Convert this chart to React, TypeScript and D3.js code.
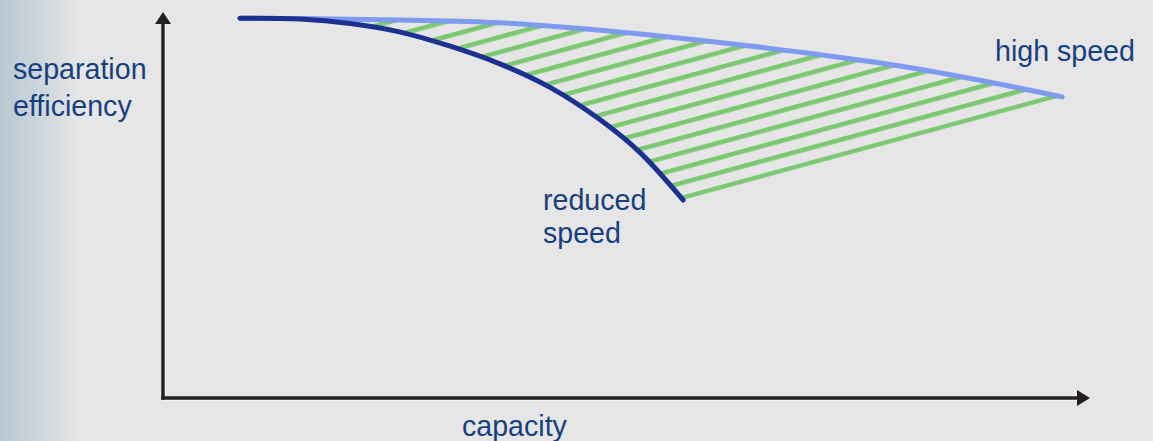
import * as d3 from "d3";

// capacity / separation-efficiency curves (axis units 0..100)
const highSpeedX = [8.3, 14.8, 25.6, 36.4, 47.2, 57.9, 68.7, 79.5, 90.3, 97.0];
const highSpeedY = [98.4, 98.3, 97.9, 97.2, 95.3, 92.7, 89.6, 86.0, 81.3, 78.0];
const reducedX = [8.3, 14.8, 20.2, 25.6, 30.9, 36.4, 41.8, 47.2, 51.5, 56.1];
const reducedY = [98.4, 98.2, 97.0, 94.8, 91.2, 86.5, 80.4, 72.0, 63.5, 51.3];

const axisLabels = { x: "capacity", y: ["separation", "efficiency"] };
const seriesLabels = { high: ["high speed"], reduced: ["reduced", "speed"] };

const W = 1153;
const H = 441;
const FONT = "'Liberation Sans', Arial, sans-serif";
const TEXT = "#17407e";

const x = d3.scaleLinear().domain([0, 100]).range([163, 1090]);
const y = d3.scaleLinear().domain([0, 100]).range([398, 12]);

type Pt = [number, number];
const high: Pt[] = highSpeedX.map((v, i) => [v, highSpeedY[i]]);
const reduced: Pt[] = reducedX.map((v, i) => [v, reducedY[i]]);

const line = d3
  .line<Pt>()
  .x((d) => x(d[0]))
  .y((d) => y(d[1]))
  .curve(d3.curveCatmullRom.alpha(0.5));

export default function App() {
  // hatched gap between the two curves, closed by a straight edge
  const hatchPath =
    line(high)! + "L" + line([...reduced].reverse())!.slice(1) + "Z";

  const endR = reduced[reduced.length - 1];
  const endH = high[high.length - 1];
  const ex = x(endR[0]);
  const ey = y(endR[1]);
  const angle =
    (Math.atan2(y(endH[1]) - ey, x(endH[0]) - ex) * 180) / Math.PI;
  const gap = 14.5;
  const lw = 4.6;

  const x0 = x(0);
  const y0 = y(0);
  const xEnd = x(100);
  const yEnd = y(100);

  return (
    <svg
      width={W}
      height={H}
      style={{ position: "absolute", left: 0, top: 0, fontFamily: FONT }}
    >
      <defs>
        <linearGradient id="edge" x1="0" x2="1" y1="0" y2="0">
          <stop offset="0" stopColor="#b8c7d2" />
          <stop offset="1" stopColor="#e6e6e6" />
        </linearGradient>
        <pattern
          id="hatch"
          patternUnits="userSpaceOnUse"
          width={60}
          height={gap}
          patternTransform={`translate(${ex},${ey}) rotate(${angle}) translate(0,${-lw})`}
        >
          <rect x={0} y={0} width={60} height={lw} fill="#7dc872" />
        </pattern>
      </defs>

      <rect width={W} height={H} fill="#e6e6e6" />
      <rect width={80} height={H} fill="url(#edge)" />

      <path d={hatchPath} fill="url(#hatch)" />

      <path
        d={line(high)!}
        fill="none"
        stroke="#7f9bf0"
        strokeWidth={5}
        strokeLinecap="round"
      />
      <path
        d={line(reduced)!}
        fill="none"
        stroke="#1c3190"
        strokeWidth={5}
        strokeLinecap="round"
      />

      {/* axes */}
      <g>
        <line x1={x0 + 2.2} x2={x0 + 2.2} y1={yEnd + 10} y2={y0} stroke="#fafafa" strokeWidth={1} />
        <line x1={x0} x2={xEnd - 10} y1={y0 + 2.2} y2={y0 + 2.2} stroke="#fafafa" strokeWidth={1} />
        <line x1={x0} x2={x0} y1={y0 + 1.7} y2={yEnd + 10} stroke="#231f20" strokeWidth={3.4} />
        <line x1={x0 - 1.7} x2={xEnd - 10} y1={y0} y2={y0} stroke="#231f20" strokeWidth={3.4} />
        <path
          d={`M${x0},${yEnd}L${x0 - 8},${yEnd + 12}L${x0 + 8},${yEnd + 12}Z`}
          fill="#231f20"
        />
        <path
          d={`M${xEnd},${y0}L${xEnd - 13},${y0 - 8}L${xEnd - 13},${y0 + 8}Z`}
          fill="#231f20"
        />
      </g>

      <g fill={TEXT} fontSize={28.6}>
        {axisLabels.y.map((t, i) => (
          <text key={t} x={13} y={79 + i * 37}>
            {t}
          </text>
        ))}
        <text x={462} y={436}>
          {axisLabels.x}
        </text>
        {seriesLabels.high.map((t, i) => (
          <text key={t} x={995} y={61 + i * 33}>
            {t}
          </text>
        ))}
        {seriesLabels.reduced.map((t, i) => (
          <text key={t} x={543} y={210 + i * 33}>
            {t}
          </text>
        ))}
      </g>
    </svg>
  );
}
